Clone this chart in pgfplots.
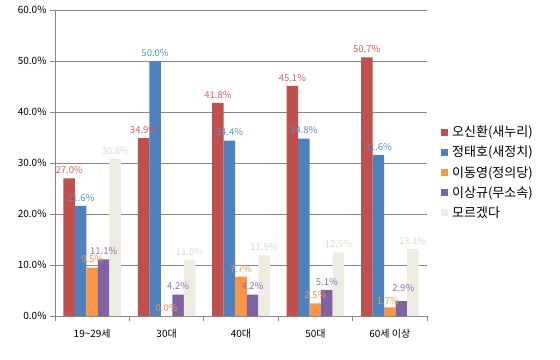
\documentclass[border=0pt]{standalone}
\usepackage{pgfplots}
\pgfplotsset{compat=1.18}
\usepackage{fontspec}
\setmainfont{Noto Sans CJK KR}
\definecolor{cRed}{HTML}{C0504D}
\definecolor{cBlue}{HTML}{4F81BD}
\definecolor{cOrange}{HTML}{F79646}
\definecolor{cPurple}{HTML}{8064A2}
\definecolor{cBeige}{HTML}{EEECE1}
\definecolor{lRed}{HTML}{D9625E}
\definecolor{lBlue}{HTML}{5B8FD0}
\definecolor{lOrange}{HTML}{F79646}
\definecolor{lPurple}{HTML}{8D70B8}
\definecolor{lBeige}{HTML}{DDDACB}
\definecolor{gridc}{HTML}{878787}
\begin{document}
\begin{tikzpicture}
\path[use as bounding box] (0,0) rectangle (560bp,360bp);
\begin{axis}[
  at={(55bp,44bp)}, anchor=south west,
  scale only axis, width=372bp, height=306bp,
  ybar=0pt, bar width=11.5bp,
  ymin=0, ymax=60, ytick={0,10,...,60},
  xmin=-0.5, xmax=4.5,
  xtick={0,1,2,3,4},
  xticklabels={19\textasciitilde29세,30대,40대,50대,60세 이상},
  minor xtick={-0.5,0.5,1.5,2.5,3.5,4.5},
  major x tick style={draw=none},
  minor x tick style={draw=gridc, line width=0.8pt},
  y tick style={draw=gridc, line width=0.8pt},
  minor tick length=5bp, major tick length=5bp,
  tick align=outside,
  axis x line*=bottom, axis y line*=left,
  axis line style={draw=gridc, line width=0.8pt, -},
  ymajorgrids, grid style={draw=gridc, line width=0.8pt},
  /pgf/number format/assume math mode=true,
  yticklabel={\pgfmathprintnumber[fixed,fixed zerofill,precision=1]{\tick}\%},
  ticklabel style={font=\fontsize{10bp}{12bp}\selectfont, text=black},
  xticklabel style={yshift=-5bp},
  nodes near coords={\pgfmathprintnumber[fixed,fixed zerofill,precision=1]{\pgfplotspointmeta}\%},
  nodes near coords style={font=\fontsize{9.5bp}{11bp}\selectfont, anchor=south, yshift=1bp},
  legend style={at={(1,0.5)}, anchor=west, xshift=14bp, yshift=-9.5bp, draw=none, fill=none,
    font=\fontsize{13bp}{15bp}\selectfont, row sep=4bp, inner sep=0pt,
    nodes={inner xsep=4bp}},
  legend cell align=left,
  legend image code/.code={\path[#1] (0bp,-3.5bp) rectangle (7bp,3.5bp);},
  clip=false,
]
\addplot[fill=cRed, draw=none, every node near coord/.append style={text=lRed}] coordinates {(0,27.0) (1,34.9) (2,41.8) (3,45.1) (4,50.7)};
\addplot[fill=cBlue, draw=none, every node near coord/.append style={text=lBlue}] coordinates {(0,21.6) (1,50.0) (2,34.4) (3,34.8) (4,31.6)};
\addplot[fill=cOrange, draw=none, every node near coord/.append style={text=lOrange},
  coordinate style/.condition={x==4}{yshift=-2bp, xshift=-2bp}] coordinates {(0,9.5) (1,0.0) (2,7.7) (3,2.5) (4,1.7)};
\addplot[fill=cPurple, draw=none, every node near coord/.append style={text=lPurple},
  coordinate style/.condition={x==4}{yshift=5bp, xshift=2bp}] coordinates {(0,11.1) (1,4.2) (2,4.2) (3,5.1) (4,2.9)};
\addplot[fill=cBeige, draw=none, every node near coord/.append style={text=lBeige}] coordinates {(0,30.8) (1,11.0) (2,11.9) (3,12.5) (4,13.1)};
\legend{오신환(새누리),정태호(새정치),이동영(정의당),이상규(무소속),모르겠다}
\end{axis}
\end{tikzpicture}
\end{document}
